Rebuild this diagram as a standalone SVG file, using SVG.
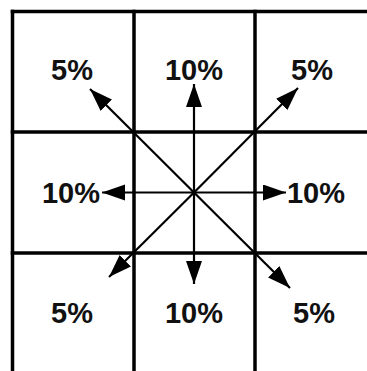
<svg xmlns="http://www.w3.org/2000/svg" width="367" height="371" viewBox="0 0 367 371">
<style>
.grid{stroke:#000;stroke-width:3.5;fill:none}
.arr{stroke:#000;stroke-width:2.2;fill:none;marker-end:url(#ah)}
text{font-family:"Liberation Sans",Arial,sans-serif;font-weight:bold;font-size:29px;fill:#111;text-anchor:middle}
</style>
<defs>
<marker id="ah" markerUnits="userSpaceOnUse" markerWidth="24" markerHeight="18" refX="23" refY="8" orient="auto">
<path d="M0,0 L23,8 L0,16 Z" fill="#000"/>
</marker>
</defs>
<rect width="367" height="371" fill="#fff"/>
<g id="grid">
<line class="grid" x1="12.5" y1="9.75" x2="12.5" y2="371"/>
<line class="grid" x1="134" y1="9.75" x2="134" y2="371"/>
<line class="grid" x1="255" y1="9.75" x2="255" y2="371"/>
<line class="grid" x1="10.75" y1="11.5" x2="367" y2="11.5"/>
<line class="grid" x1="10.75" y1="132" x2="367" y2="132"/>
<line class="grid" x1="10.75" y1="253" x2="367" y2="253"/>
</g>
<g id="connectors">
<line class="arr" x1="194" y1="192.5" x2="194" y2="84"/>
<line class="arr" x1="194" y1="192.5" x2="194" y2="284"/>
<line class="arr" x1="194" y1="192.5" x2="102" y2="192.5"/>
<line class="arr" x1="194" y1="192.5" x2="286" y2="192.5"/>
<line class="arr" x1="194" y1="192.5" x2="90" y2="89"/>
<line class="arr" x1="194" y1="192.5" x2="298" y2="88"/>
<line class="arr" x1="194" y1="192.5" x2="109" y2="277"/>
<line class="arr" x1="194" y1="192.5" x2="290" y2="288"/>
</g>
<g id="n-tl"><text x="72" y="80">5%</text></g>
<g id="n-tc"><text x="194" y="80">10%</text></g>
<g id="n-tr"><text x="312" y="80">5%</text></g>
<g id="n-ml"><text x="71" y="203">10%</text></g>
<g id="n-mr"><text x="316" y="203">10%</text></g>
<g id="n-bl"><text x="72" y="323">5%</text></g>
<g id="n-bc"><text x="194" y="323">10%</text></g>
<g id="n-br"><text x="314" y="323">5%</text></g>
</svg>
